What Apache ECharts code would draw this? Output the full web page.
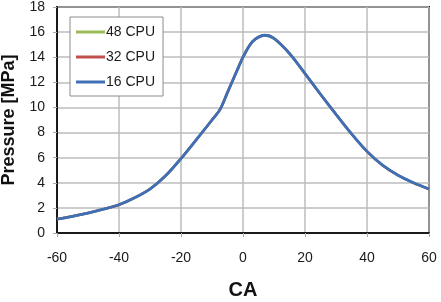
<!DOCTYPE html>
<html>
<head>
<meta charset="utf-8">
<script src="https://cdn.jsdelivr.net/npm/echarts@6/dist/echarts.min.js"></script>
<style>
    html, body { margin: 0; padding: 0; background: #fff; }
    #chart { width: 441px; height: 302px; }
</style>
</head>
<body>
<div id="chart"></div>
<script>
// crank angle (CA) and cylinder pressure
var ca   = [-60, -55, -50, -45, -40, -35, -30, -25, -20, -15, -10, -7.4, -5, -2, 0, 2, 4, 7, 10, 15, 20, 25, 30, 35, 40, 45, 50, 55, 60]
var p48  = [1.11, 1.33, 1.59, 1.9, 2.25, 2.8, 3.5, 4.55, 5.93, 7.45, 9.0, 9.85, 11.2, 12.9, 14.0, 14.9, 15.45, 15.75, 15.5, 14.3, 12.7, 11.05, 9.45, 7.9, 6.5, 5.4, 4.6, 4.0, 3.5]
var p32  = [1.11, 1.33, 1.59, 1.9, 2.25, 2.8, 3.5, 4.55, 5.93, 7.45, 9.0, 9.85, 11.2, 12.9, 14.0, 14.9, 15.45, 15.75, 15.5, 14.3, 12.7, 11.05, 9.45, 7.9, 6.5, 5.4, 4.6, 4.0, 3.5]
var p16  = [1.11, 1.33, 1.59, 1.9, 2.25, 2.8, 3.5, 4.55, 5.93, 7.45, 9.0, 9.85, 11.2, 12.9, 14.0, 14.9, 15.45, 15.75, 15.5, 14.3, 12.7, 11.05, 9.45, 7.9, 6.5, 5.4, 4.6, 4.0, 3.5]
var names = ['48 CPU', '32 CPU', '16 CPU']
var colors = ['#9bbb59', '#c0504d', '#3f6fb5']

function pairs(ys) {
    return ca.map(function (x, i) { return [x, ys[i]] })
}

var chart = echarts.init(document.getElementById('chart'))
var font = 'Liberation Sans, Arial, sans-serif'

chart.setOption({
    animation: false,
    color: colors,
    grid: {
        left: 57,
        right: 12,
        top: 7,
        bottom: 69,
        outerBoundsMode: 'none',
        show: true,
        borderColor: '#1a1a1a',
        borderWidth: 2
    },
    legend: {
        data: names,
        orient: 'vertical',
        left: 70,
        top: 17,
        padding: [8, 8, 7, 6],
        itemGap: 11,
        itemWidth: 29,
        itemHeight: 3,
        icon: 'rect',
        backgroundColor: '#fff',
        borderColor: '#8c8c8c',
        borderWidth: 1,
        textStyle: { fontFamily: font, fontSize: 14, color: '#1a1a1a', padding: [0, 0, 0, -4] }
    },
    xAxis: {
        type: 'value',
        min: -60,
        max: 60,
        interval: 20,
        name: 'CA',
        nameLocation: 'middle',
        nameGap: 47,
        nameTextStyle: { fontFamily: font, fontSize: 20, fontWeight: 'bold', color: '#111' },
        axisLine: { onZero: false, lineStyle: { color: '#1a1a1a', width: 2 } },
        axisTick: { show: true, length: 4, lineStyle: { color: '#aaa' } },
        axisLabel: { margin: 18, fontFamily: font, fontSize: 14, color: '#1a1a1a' },
        splitLine: { lineStyle: { color: '#bdbdbd', width: 1.5 } }
    },
    yAxis: {
        type: 'value',
        min: 0,
        max: 18,
        interval: 2,
        name: 'Pressure [MPa]',
        nameLocation: 'middle',
        nameGap: 39,
        nameTextStyle: { fontFamily: font, fontSize: 18, fontWeight: 'bold', color: '#111' },
        axisLine: { show: true, onZero: false, lineStyle: { color: '#1a1a1a', width: 2 } },
        axisTick: { show: true, length: 4, lineStyle: { color: '#aaa' } },
        axisLabel: { margin: 12, fontFamily: font, fontSize: 14, color: '#1a1a1a' },
        splitLine: { lineStyle: { color: '#bdbdbd', width: 1.5 } }
    },
    series: [
        { name: names[0], type: 'line', data: pairs(p48), smooth: 0.3, showSymbol: false, lineStyle: { width: 2.5 } },
        { name: names[1], type: 'line', data: pairs(p32), smooth: 0.3, showSymbol: false, lineStyle: { width: 2.5 } },
        { name: names[2], type: 'line', data: pairs(p16), smooth: 0.3, showSymbol: false, lineStyle: { width: 2.8 } }
    ]
})
</script>
</body>
</html>
